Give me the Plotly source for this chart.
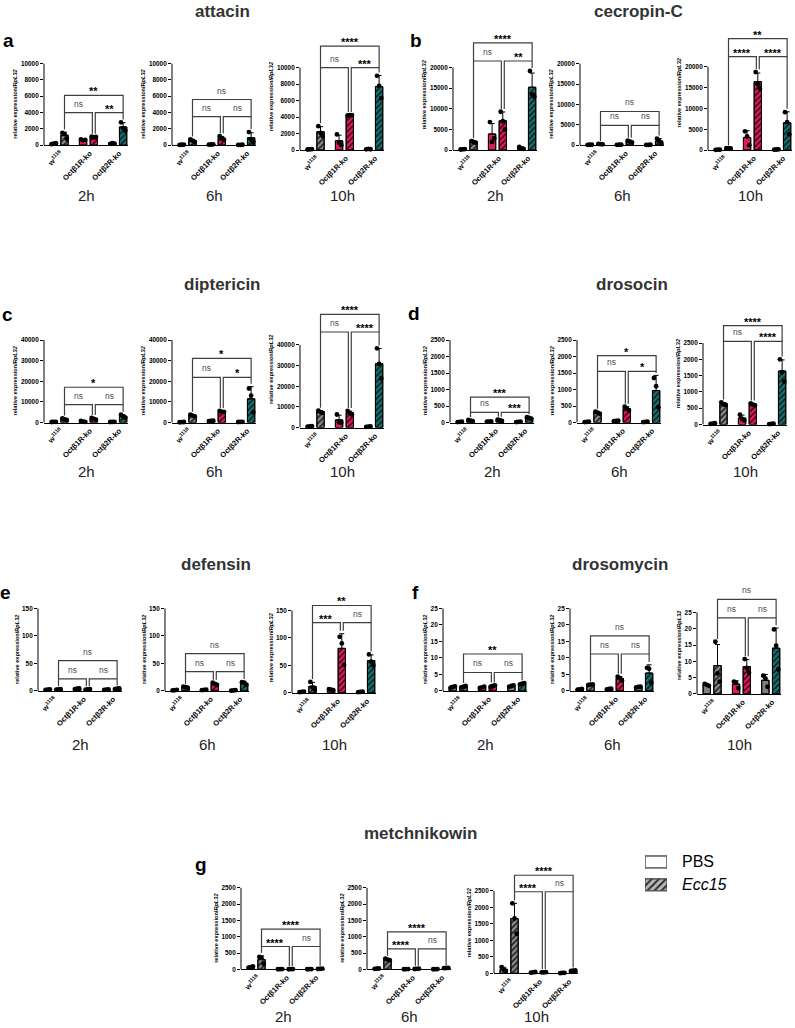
import numpy as np
import plotly.graph_objects as go

FONT = "Liberation Sans"
W, H = 795, 1028

# ---------------- data ----------------
genes = ["attacin", "cecropin-C", "diptericin", "drosocin", "defensin", "drosomycin", "metchnikowin"]
panel_letters = ["a", "b", "c", "d", "e", "f", "g"]
times = ["2h", "6h", "10h"]
genotype_labels = ["w<sup>1118</sup>", "Octβ1R-ko", "Octβ2R-ko"]
treatments = ["PBS", "<i>Ecc15</i>"]
y_max = [10000, 20000, 40000, 2500, 150, 25, 2500]
y_step = [2000, 5000, 10000, 500, 50, 5, 500]

# replicate values per bar; bar order: w1118 PBS, w1118 Ecc15, Octb1R PBS, Octb1R Ecc15, Octb2R PBS, Octb2R Ecc15
attacin_2h = [[120, 180, 240], [1500, 1350, 800], [700, 600, 650], [1050, 950, 1000], [150, 250, 200], [2800, 2100, 1800]]
attacin_6h = [[30, 50, 70], [700, 550, 400], [60, 80, 100], [1100, 800, 650], [30, 40, 50], [1600, 700, 400]]
attacin_10h = [[80, 100, 120], [2900, 2100, 1700], [1900, 900, 600], [4200, 4250, 4250], [100, 150, 110], [9000, 7800, 6300]]

cecropin_2h = [[150, 200, 250], [2200, 2000, 1800], [6800, 2000, 2900], [9300, 7000, 5000], [800, 400, 300], [19200, 13500, 13000]]
cecropin_6h = [[80, 100, 120], [300, 250, 200], [80, 100, 120], [1100, 900, 700], [60, 80, 100], [1600, 1100, 300]]
cecropin_10h = [[80, 100, 120], [500, 450, 400], [4500, 3300, 1200], [18700, 15800, 14700], [100, 150, 200], [9100, 6700, 3800]]

diptericin_2h = [[250, 300, 350], [2000, 1500, 1300], [800, 400, 300], [2200, 1800, 1400], [250, 300, 350], [3800, 2800, 2400]]
diptericin_6h = [[150, 200, 250], [3800, 3400, 3000], [700, 800, 900], [5600, 5200, 5100], [250, 300, 350], [16500, 13000, 5000]]
diptericin_10h = [[400, 500, 600], [8200, 7500, 7100], [6300, 2500, 2300], [8000, 7000, 6300], [300, 400, 500], [38400, 30800, 23800]]

drosocin_2h = [[15, 20, 25], [80, 60, 40], [25, 30, 35], [90, 70, 50], [15, 20, 25], [160, 140, 120]]
drosocin_6h = [[15, 20, 25], [330, 300, 270], [40, 50, 60], [480, 420, 360], [15, 20, 25], [1350, 1100, 460]]
drosocin_10h = [[20, 30, 40], [680, 620, 600], [300, 170, 130], [650, 610, 590], [15, 20, 25], [2000, 1600, 1320]]

defensin_2h = [[2, 2.5, 3], [2.5, 3, 3.5], [3.5, 4, 4.5], [2.5, 3, 3.5], [2, 2.5, 3], [3.5, 4, 4.5]]
defensin_6h = [[1, 1.5, 2], [8, 7, 6], [1.5, 2, 2.5], [15, 13, 11], [0.5, 1, 1.5], [16, 15, 11]]
defensin_10h = [[1.5, 2, 2.5], [20, 10, 6], [7, 6, 5], [102, 90, 51], [1.5, 2, 2.5], [70, 57, 50]]

drosomycin_2h = [[1.0, 1.2, 1.4], [1.1, 1.3, 1.5], [0.9, 1.1, 1.3], [1.3, 1.5, 1.7], [1.3, 1.5, 1.7], [2.0, 2.2, 2.4]]
drosomycin_6h = [[0.4, 0.5, 0.6], [1.8, 1.9, 2.0], [0.5, 0.6, 0.7], [4.3, 3.9, 3.2], [1.1, 1.2, 1.3], [7.0, 6.7, 2.5]]
drosomycin_10h = [[3.1, 2.8, 2.5], [16, 6.3, 3.8], [3.8, 3.4, 1.8], [10.7, 8, 6.5], [5.6, 4.8, 2.2], [19.8, 14.8, 7.5]]

metchnikowin_2h = [[50, 70, 90], [380, 350, 170], [3, 5, 7], [3, 5, 7], [3, 5, 7], [10, 15, 20]]
metchnikowin_6h = [[15, 20, 25], [330, 300, 280], [3, 5, 7], [10, 15, 20], [3, 5, 7], [35, 40, 45]]
metchnikowin_10h = [[190, 100, 70], [2120, 1660, 1200], [20, 30, 40], [25, 30, 35], [5, 10, 15], [70, 80, 90]]

replicates = {
    "attacin": [attacin_2h, attacin_6h, attacin_10h],
    "cecropin-C": [cecropin_2h, cecropin_6h, cecropin_10h],
    "diptericin": [diptericin_2h, diptericin_6h, diptericin_10h],
    "drosocin": [drosocin_2h, drosocin_6h, drosocin_10h],
    "defensin": [defensin_2h, defensin_6h, defensin_10h],
    "drosomycin": [drosomycin_2h, drosomycin_6h, drosomycin_10h],
    "metchnikowin": [metchnikowin_2h, metchnikowin_6h, metchnikowin_10h],
}

# significance: (lower bracket level, top bracket level, [w vs b1R, b1R vs b2R, w vs b2R])
significance = {
    "attacin": [(4000, 6100, ["ns", "**", "**"]), (3500, 5600, ["ns", "ns", "ns"]), (10000, 12600, ["ns", "***", "****"])],
    "cecropin-C": [(21600, 26000, ["ns", "**", "****"]), (4860, 8260, ["ns", "ns", "ns"]), (22400, 26700, ["****", "****", "**"])],
    "diptericin": [(8700, 17100, ["ns", "ns", "*"]), (21900, 31100, ["ns", "*", "*"]), (46300, 54800, ["ns", "****", "****"])],
    "drosocin": [(310, 770, ["ns", "***", "***"]), (1550, 2030, ["ns", "*", "*"]), (2550, 3030, ["ns", "****", "****"])],
    "defensin": [(22, 55, ["ns", "ns", "ns"]), (35, 68, ["ns", "ns", "ns"]), (128, 159, ["***", "ns", "**"])],
    "drosomycin": [(5.6, 11.2, ["ns", "ns", "**"]), (11.2, 16.7, ["ns", "ns", "ns"]), (23.3, 29, ["ns", "ns", "ns"])],
    "metchnikowin": [(700, 1235, ["****", "ns", "****"]), (630, 1150, ["****", "ns", "****"]), (2470, 2970, ["****", "ns", "****"])],
}

# ---------------- layout geometry (pixels) ----------------
AXIS_W = 84
geom = {  # (axis left px, y px of 0, y px of top tick)
    "attacin": [(44, 143, 61), (172, 143, 61), (300, 148, 65)],
    "cecropin-C": [(453, 148, 65), (580, 143, 61), (708, 148, 64)],
    "diptericin": [(44, 422, 339), (172, 422, 339), (300, 427, 344)],
    "drosocin": [(450, 422, 339), (577, 422, 339), (703, 424, 342)],
    "defensin": [(38, 692, 609), (165, 692, 609), (292, 694, 611)],
    "drosomycin": [(443, 692, 609), (570, 692, 609), (697, 695, 613)],
    "metchnikowin": [(241, 972, 890), (367, 972, 890), (494, 976, 893)],
}
title_pos = {"attacin": (222, 9), "cecropin-C": (638, 9), "diptericin": (222, 283), "drosocin": (632, 283),
             "defensin": (216, 565), "drosomycin": (620, 565), "metchnikowin": (420, 835)}
letter_pos = {"attacin": (8, 38), "cecropin-C": (416, 38), "diptericin": (7, 313), "drosocin": (414, 312),
              "defensin": (5, 593), "drosomycin": (415, 593), "metchnikowin": (201, 867)}
time_y = {"attacin": 194, "cecropin-C": 194, "diptericin": 471, "drosocin": 471,
          "defensin": 746, "drosomycin": 746, "metchnikowin": 1019}
LEG_BOX = (645, 667)          # legend swatch x extent (px)
LEG_ROWS = (864, 887)         # legend row centres (px)
LEG_TEXT_X = 680

GROUP_GAP = 3.0
PAIR_GAP = 1.1
X_RANGE = [-1.0, 7.6]
MID_OFF = 0.15
bar_x = [g * GROUP_GAP + k * PAIR_GAP for g in range(3) for k in range(2)]
group_centers = [g * GROUP_GAP + PAIR_GAP / 2 + 0.15 for g in range(3)]
jitter = [-0.22, 0.0, 0.22]

fill_colors = ["#7f7f7f", "#8c8c8c", "#e3195b", "#e3195b", "#7f7f7f", "#1b6f6f"]
pattern_shapes = ["", "/", "", "/", "", "/"]
pattern_fg = ["#000000", "#1c1c1c", "#3d0314", "#3d0314", "#000000", "#052222"]


def px(x):
    return x / W


def py(y):
    return 1 - y / H


fig = go.Figure()
layout_axes = {}
shapes = []
annotations = []

idx = 0
for gi, gene in enumerate(genes):
    ymx = y_max[gi]
    for ti, t in enumerate(times):
        idx += 1
        sfx = "" if idx == 1 else str(idx)
        xa, ya = "x" + sfx, "y" + sfx
        left, y0px, ytop = geom[gene][ti]
        reps = np.array(replicates[gene][ti], dtype=float)
        means = reps.mean(axis=1)
        sds = reps.std(axis=1, ddof=1)
        lo, hi, labels = significance[gene][ti]

        scale = (y0px - ytop) / ymx
        rtop = max(ymx * 1.01, hi * 1.03)
        top_px = y0px - rtop * scale

        layout_axes["xaxis" + sfx] = dict(
            domain=[px(left), px(left + AXIS_W)], anchor=ya, range=X_RANGE,
            showline=True, linecolor="black", linewidth=1, showgrid=False, zeroline=False,
            tickmode="array", tickvals=group_centers, ticktext=genotype_labels, tickangle=-45,
            ticks="", tickfont=dict(family=FONT, size=7.5, color="black", weight="bold"), fixedrange=True)
        layout_axes["yaxis" + sfx] = dict(
            domain=[py(y0px), py(top_px)], anchor=xa, range=[0, rtop],
            showline=False, showgrid=False, zeroline=False,
            tickmode="array", tickvals=list(np.arange(0, ymx + y_step[gi] / 2, y_step[gi])),
            tickformat="d", ticks="outside", ticklen=3, tickwidth=1, tickcolor="black",
            tickfont=dict(family=FONT, size=6.4, color="black", weight="bold"),
            title=dict(text="relative expression/<i>RpL32</i>", standoff=2,
                       font=dict(family=FONT, size=5.6, color="black", weight="bold")),
            fixedrange=True)
        # y axis line up to the top tick
        shapes.append(dict(type="line", xref=xa + " domain", yref=ya, x0=0, x1=0, y0=0, y1=ymx,
                           line=dict(color="black", width=1)))

        # solid bar fill
        fig.add_trace(go.Bar(
            x=bar_x, y=means, width=0.75, xaxis=xa, yaxis=ya, showlegend=False,
            marker=dict(color=fill_colors, line=dict(color="black", width=1)),
            error_y=dict(type="data", array=sds, arrayminus=[0] * 6, symmetric=False,
                         color="black", thickness=1, width=2.5)))
        # hatch overlay for Ecc15 bars
        fig.add_trace(go.Bar(
            x=bar_x, y=means, width=0.75, xaxis=xa, yaxis=ya, showlegend=False,
            marker=dict(color="rgba(0,0,0,0)", line=dict(color="black", width=1),
                        pattern=dict(shape=pattern_shapes, fgcolor=pattern_fg, bgcolor="rgba(0,0,0,0)",
                                     fillmode="replace", size=4, solidity=0.4, fgopacity=1))))

        dx, dy = [], []
        for b in range(6):
            for r in range(reps.shape[1]):
                dx.append(bar_x[b] + jitter[r])
                dy.append(reps[b, r])
        fig.add_trace(go.Scatter(x=dx, y=dy, mode="markers", xaxis=xa, yaxis=ya, showlegend=False,
                                 cliponaxis=False,
                                 marker=dict(color="black", size=4.8, line=dict(width=0))))

        # significance brackets
        top_data = np.maximum(means + sds, reps.max(axis=1))
        pad = 0.035 * ymx
        ecc = [1, 3, 5]
        pairs = [(0, 1, lo, 0, -MID_OFF), (1, 2, lo, MID_OFF, 0), (0, 2, hi, 0, 0)]
        for (a, b, lev, o1, o2), lab in zip(pairs, labels):
            xa1, xa2 = bar_x[ecc[a]] + o1, bar_x[ecc[b]] + o2
            if lev == hi:
                d1 = d2 = lo
            else:
                d1 = min(top_data[ecc[a]] + pad, lev - 0.02 * ymx)
                d2 = min(top_data[ecc[b]] + pad, lev - 0.02 * ymx)
            shapes.append(dict(type="path", xref=xa, yref=ya,
                               path=f"M {xa1},{d1} L {xa1},{lev} L {xa2},{lev} L {xa2},{d2}",
                               line=dict(color="#3f3f3f", width=1.2)))
            if lab == "ns":
                annotations.append(dict(x=(xa1 + xa2) / 2, y=lev, xref=xa, yref=ya, text=lab,
                                        showarrow=False, yanchor="bottom", yshift=2,
                                        font=dict(family=FONT, size=8.5, color="#4d4d4d")))
            else:
                annotations.append(dict(x=(xa1 + xa2) / 2, y=lev, xref=xa, yref=ya, text=lab,
                                        showarrow=False, yanchor="bottom", yshift=-4,
                                        font=dict(family=FONT, size=11, color="black", weight="bold")))

        # time label
        annotations.append(dict(x=px(left + AXIS_W / 2), y=py(time_y[gene]), xref="paper", yref="paper",
                                text=t, showarrow=False, xanchor="center", yanchor="middle",
                                font=dict(family=FONT, size=15, color="#222222")))

    tx, ty = title_pos[gene]
    annotations.append(dict(x=px(tx), y=py(ty), xref="paper", yref="paper", text=gene, showarrow=False,
                            xanchor="center", yanchor="middle",
                            font=dict(family=FONT, size=17, color="#333333", weight="bold")))
    lx, ly = letter_pos[gene]
    annotations.append(dict(x=px(lx), y=py(ly), xref="paper", yref="paper", text=panel_letters[gi],
                            showarrow=False, xanchor="center", yanchor="middle",
                            font=dict(family=FONT, size=19, color="black", weight="bold")))

# ---------------- legend (swatches drawn as bars on a hidden axis pair) ----------------
row_gap = LEG_ROWS[1] - LEG_ROWS[0]
leg_top = LEG_ROWS[0] - row_gap / 2
leg_bot = LEG_ROWS[1] + row_gap / 2
layout_axes["xaxis22"] = dict(domain=[px(LEG_BOX[0]), px(LEG_BOX[1])], range=[0, 1], visible=False,
                              anchor="y22", fixedrange=True)
layout_axes["yaxis22"] = dict(domain=[py(leg_bot), py(leg_top)], range=[1.5, -0.5], visible=False,
                              anchor="x22", fixedrange=True)
fig.add_trace(go.Bar(y=[0, 1], x=[1, 1], orientation="h", width=12 / row_gap, xaxis="x22", yaxis="y22",
                     showlegend=False, hoverinfo="skip",
                     marker=dict(color=["white", "#b8b8b8"], line=dict(color="#555555", width=1))))
fig.add_trace(go.Bar(y=[0, 1], x=[1, 1], orientation="h", width=12 / row_gap, xaxis="x22", yaxis="y22",
                     showlegend=False, hoverinfo="skip",
                     marker=dict(color="rgba(0,0,0,0)", line=dict(color="#555555", width=1),
                                 pattern=dict(shape=["", "/"], fgcolor="#2a2a2a", bgcolor="rgba(0,0,0,0)",
                                              fillmode="replace", size=5, solidity=0.4))))
for name, ry in zip(treatments, LEG_ROWS):
    annotations.append(dict(x=px(LEG_TEXT_X), y=py(ry), xref="paper", yref="paper", text=name,
                            showarrow=False, xanchor="left", yanchor="middle",
                            font=dict(family=FONT, size=16, color="black")))

fig.update_layout(
    width=W, height=H, margin=dict(l=0, r=0, t=0, b=0),
    paper_bgcolor="white", plot_bgcolor="rgba(0,0,0,0)",
    barmode="overlay", shapes=shapes, annotations=annotations, showlegend=False,
    font=dict(family=FONT, color="black"),
    **layout_axes,
)

fig.write_html("out.html")
